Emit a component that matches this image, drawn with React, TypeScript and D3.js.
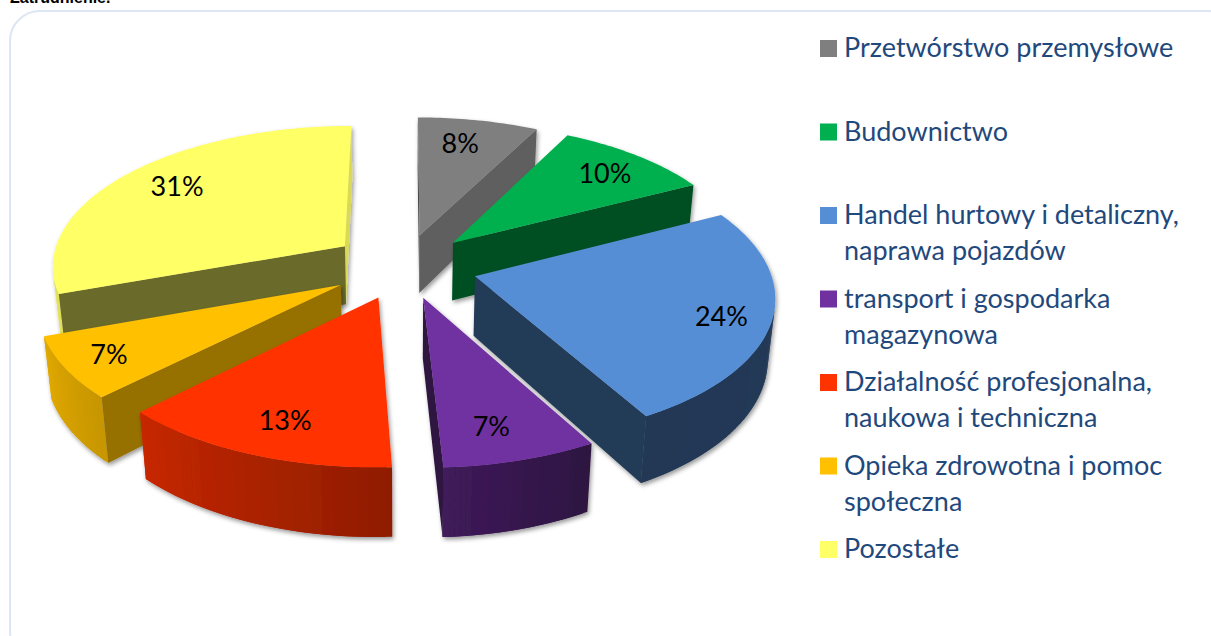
import React from "react";
import * as d3 from "d3";

const categories = [
  "Przetwórstwo przemysłowe",
  "Budownictwo",
  "Handel hurtowy i detaliczny, naprawa pojazdów",
  "transport i gospodarka magazynowa",
  "Działalność profesjonalna, naukowa i techniczna",
  "Opieka zdrowotna i pomoc społeczna",
  "Pozostałe",
];
const legendLines = [
  ["Przetwórstwo przemysłowe"],
  ["Budownictwo"],
  ["Handel hurtowy i detaliczny,", "naprawa pojazdów"],
  ["transport i gospodarka", "magazynowa"],
  ["Działalność profesjonalna,", "naukowa i techniczna"],
  ["Opieka zdrowotna i pomoc", "społeczna"],
  ["Pozostałe"],
];
// slice sizes as measured on the drawn pie, and the labels the chart prints
const shares = [7.6, 9.9, 24.4, 7.3, 13.35, 6.95, 30.5];
const shareLabels = ["8%", "10%", "24%", "7%", "13%", "7%", "31%"];
const colors = ["#7f7f7f", "#00b050", "#558ed5", "#7030a0", "#ff3300", "#ffc000", "#ffff66"];
const explosion = [0.23, 0.24, 0.25, 0.23, 0.235, 0.25, 0.25];
const labelRadius = [0.77, 0.79, 0.84, 0.81, 0.8, 0.85, 0.776];
const labelTurn = [-1.7, 1.4, 2.3, 2, -1.4, 0, 1.2];
const startWallShade = [0.55, 0.45, 0.41, 0.4, 0.6, 0.59, 0.42];
const endWallShade = [0.75, 0.45, 0.41, 0.4, 0.6, 0.59, 0.85];
const paintOrder = [0, 1, 6, 2, 5, 3, 4];

const CX = 404, CY = 266, RX = 294, RY = 140, P = 0.125, Q = 0.02, H = 59;

type Pt = [number, number];
const project = (u: number, v: number, h: number): Pt => {
  const w = 1 - P * v;
  return [CX + (RX * u) / (w + Q * h), CY + (RY * v + H * h) / w];
};

const outerShade = d3.scaleLinear().domain([90, 150, 176, 225, 250, 360]).range([0.41, 0.4, 0.56, 0.78, 0.88, 0.9]).clamp(true);
const shadeColor = (c: string, k: number) => {
  const r = d3.rgb(c);
  return d3.rgb(r.r * k, r.g * k, r.b * k).formatHex();
};
const pathOf = d3.line<Pt>();
const signedArea = (q: Pt[]) =>
  d3.sum(q, (p, i) => {
    const n = q[(i + 1) % q.length];
    return p[0] * n[1] - n[0] * p[1];
  });

const pie = d3.pie<number>().sort(null).value((d) => d)(shares);

function Slice({ i }: { i: number }) {
  const a = pie[i];
  const mid = (a.startAngle + a.endAngle) / 2;
  const e = explosion[i];
  const ou = e * Math.sin(mid);
  const ov = -e * Math.cos(mid);
  const N = Math.max(2, Math.ceil(((a.endAngle - a.startAngle) * 180) / Math.PI));
  const angles = d3.range(N + 1).map((k) => a.startAngle + ((a.endAngle - a.startAngle) * k) / N);
  const rim = angles.map((t) => [ou + Math.sin(t), ov - Math.cos(t)] as Pt);
  const apex: Pt = [ou, ov];
  const top: Pt[] = [apex, ...rim].map(([u, v]) => project(u, v, 0));
  const quad = (p: Pt, q: Pt): Pt[] => [
    project(p[0], p[1], 0),
    project(q[0], q[1], 0),
    project(q[0], q[1], 1),
    project(p[0], p[1], 1),
  ];
  const walls: { q: Pt[]; fill: string }[] = [];
  for (let k = 0; k < N; k++) {
    const q = quad(rim[k], rim[k + 1]);
    if (signedArea(q) < 0) {
      // each strip overlaps the next one so no seam shows between them
      walls.push({
        q: quad(rim[k], rim[Math.min(k + 2, N)]),
        fill: shadeColor(colors[i], outerShade((angles[k] * 180) / Math.PI) as number),
      });
    }
  }
  const endQ = quad(rim[N], apex);
  const startQ = quad(apex, rim[0]);
  if (signedArea(endQ) < 0) walls.push({ q: endQ, fill: shadeColor(colors[i], endWallShade[i]) });
  if (signedArea(startQ) < 0) walls.push({ q: startQ, fill: shadeColor(colors[i], startWallShade[i]) });
  return (
    <g filter="url(#sliceShadow)">
      {walls.map((w, k) => (
        <path key={k} d={pathOf(w.q) + "Z"} fill={w.fill} />
      ))}
      <path d={pathOf(top) + "Z"} fill={colors[i]} />
    </g>
  );
}

function label(i: number): Pt {
  const a = pie[i];
  const mid = (a.startAngle + a.endAngle) / 2;
  const t = mid + (labelTurn[i] * Math.PI) / 180;
  const e = explosion[i];
  return project(
    e * Math.sin(mid) + labelRadius[i] * Math.sin(t),
    -e * Math.cos(mid) - labelRadius[i] * Math.cos(t),
    0
  );
}

const legendY = d3.scaleLinear().domain([0, 6]).range([40, 541]);

export default function App() {
  return (
    <svg
      width={1211}
      height={636}
      viewBox="0 0 1211 636"
      style={{ position: "absolute", left: 0, top: 0, display: "block", background: "#fff" }}
    >
      <defs>
        <filter id="sliceShadow" x="-10%" y="-10%" width="120%" height="120%">
          <feDropShadow dx={1.5} dy={2.5} stdDeviation={2} floodColor="#000" floodOpacity={0.4} />
        </filter>
      </defs>
      <text x={10} y={3} fontFamily="Liberation Sans" fontWeight="bold" fontSize={16} fill="#000">
        Zatrudnienie.
      </text>
      <rect x={10} y={11} width={1228} height={650} rx={30} ry={30} fill="#fff" stroke="#dce6f4" strokeWidth={2} />
      {paintOrder.map((i) => (
        <Slice key={i} i={i} />
      ))}
      {shareLabels.map((s, i) => {
        const [x, y] = label(i);
        return (
          <text key={i} x={x} y={y + 9} textAnchor="middle" fontFamily="Lato" fontSize={27} fill="#000">
            {s}
          </text>
        );
      })}
      {categories.map((c, i) => (
        <g key={c}>
          <rect x={820} y={legendY(i)} width={17} height={17} fill={colors[i]} />
          {legendLines[i].map((t, j) => (
            <text key={j} x={844} y={legendY(i) + 17 + j * 36} fontFamily="Lato" fontSize={27} fill="#1f497d">
              {t}
            </text>
          ))}
        </g>
      ))}
    </svg>
  );
}
